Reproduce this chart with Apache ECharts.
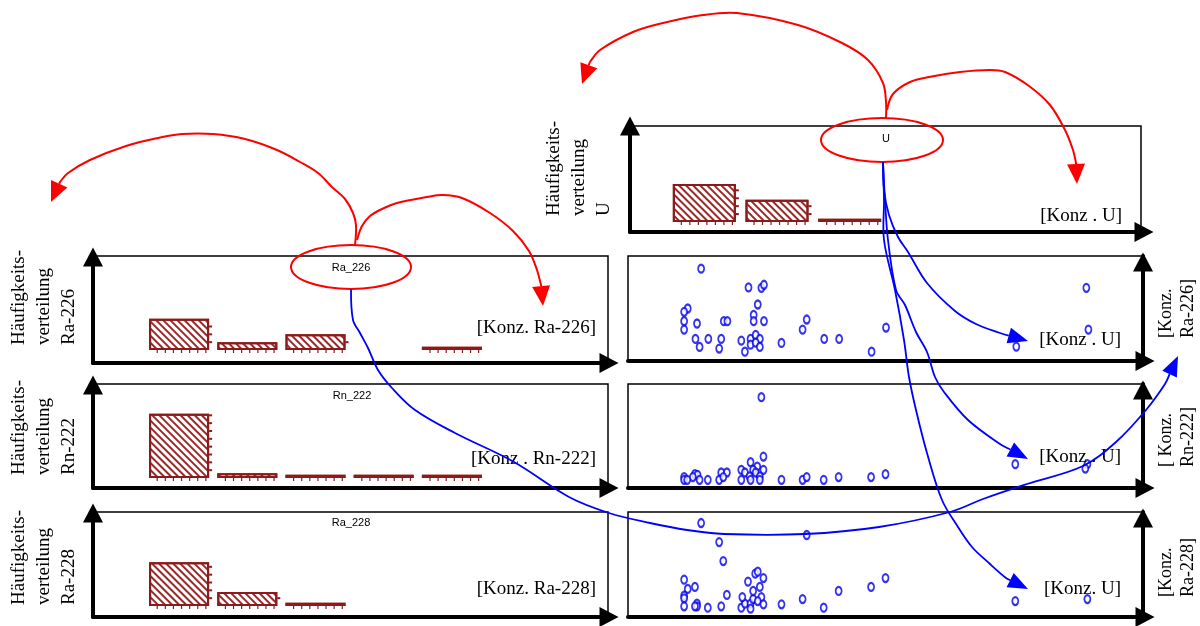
<!DOCTYPE html>
<html>
<head>
<meta charset="utf-8">
<script src="https://cdn.jsdelivr.net/npm/echarts@6/dist/echarts.min.js"></script>
<style>
  html, body { margin: 0; padding: 0; background: #fff; }
  #chart { width: 1200px; height: 626px; }
</style>
</head>
<body>
<div id="chart"></div>
<script>
// ---- data -------------------------------------------------------------
// histogram classes (concentration bins)
const binsU = ['U-1', 'U-2', 'U-3'];
const binsRa = ['K-1', 'K-2', 'K-3', 'K-4', 'K-5'];

// frequency per class
const countsU = [24, 14, 2];
const countsRa226 = [20, 5, 10, null, 2];
const countsRn222 = [41, 3, 2, 2, 2];
const countsRa228 = [28, 9, 2, null, null];

// scatter pairs [Konz. U, Konz. nuclide], relative units 0..100
const uRa226 = [
  [14.2, 87.9], [23.4, 70.1], [25.9, 69.7], [26.4, 72.6], [25.2, 53.8],
  [11.6, 50.0], [10.9, 46.8], [10.9, 37.9], [13.4, 35.7], [18.6, 37.9],
  [19.3, 37.9], [24.4, 43.9], [24.4, 37.9], [26.4, 37.9], [10.9, 29.9],
  [34.7, 39.5], [33.9, 29.9], [50.1, 31.8], [13.1, 21.0], [15.6, 21.0],
  [18.1, 21.0], [22.0, 19.4], [23.8, 21.0], [24.8, 24.8], [25.6, 21.0],
  [23.8, 15.6], [24.8, 17.5], [25.6, 13.4], [13.9, 13.4], [17.7, 11.8],
  [22.7, 8.9], [29.8, 17.2], [38.1, 21.0], [41.0, 21.0], [47.3, 8.9],
  [75.4, 13.7], [89.0, 69.7], [89.4, 29.9]
];
const uRn222 = [
  [25.9, 87.3], [26.3, 30.2], [23.8, 24.8], [25.1, 20.6], [24.3, 17.5],
  [26.3, 17.5], [22.0, 17.5], [22.7, 14.9], [24.8, 14.9], [23.6, 11.1],
  [25.6, 11.1], [22.0, 7.9], [23.8, 7.9], [25.6, 7.9], [18.1, 14.9],
  [19.2, 14.9], [17.7, 7.9], [18.5, 10.5], [13.0, 13.3], [13.5, 12.7],
  [12.6, 10.5], [10.9, 10.5], [10.9, 7.9], [11.5, 7.9], [13.9, 7.9],
  [15.5, 7.9], [29.8, 7.9], [33.9, 7.9], [34.7, 10.5], [38.0, 7.9],
  [40.9, 10.5], [47.2, 10.5], [50.0, 13.3], [75.2, 22.9], [89.2, 22.9],
  [88.8, 18.7]
];
const uRa228 = [
  [14.2, 89.5], [17.7, 71.4], [18.5, 53.3], [34.7, 78.1], [10.9, 35.6],
  [11.6, 26.7], [13.0, 28.6], [10.9, 20.3], [10.9, 17.8], [10.9, 10.2],
  [13.4, 12.7], [13.4, 10.2], [13.0, 10.2], [15.5, 8.9], [18.1, 10.2],
  [19.2, 21.0], [22.0, 8.9], [22.7, 12.7], [23.8, 12.7], [23.8, 7.9],
  [22.2, 19.0], [24.3, 17.1], [24.3, 24.8], [23.3, 33.7], [24.7, 41.3],
  [25.2, 43.2], [26.3, 37.1], [25.6, 28.6], [25.9, 19.0], [25.2, 15.2],
  [26.3, 12.1], [29.8, 12.1], [33.9, 17.1], [38.0, 8.9], [40.9, 24.8],
  [47.2, 28.6], [50.0, 37.1], [75.2, 15.2], [89.2, 17.1]
];

// ---- styling helpers ---------------------------------------------------
const BAR_RED = '#8b1a1a';
const SERIF = '"Liberation Serif", "Times New Roman", serif';
const SANS = '"Liberation Sans", Arial, sans-serif';

const hatch = {
  symbol: 'rect',
  symbolSize: 1,
  dashArrayX: [1, 0],
  dashArrayY: [2, 3],
  rotation: Math.PI / 4,
  color: '#9a2a2a'
};

function frameAxis(gridIndex, opts) {
  return Object.assign({
    gridIndex: gridIndex,
    type: 'value',
    min: 0,
    max: 100,
    axisLine: {
      show: true,
      onZero: false,
      lineStyle: { color: '#000', width: 4 },
      symbol: ['none', 'triangle'],
      symbolSize: [20, 19],
      symbolOffset: [0, opts.offset]
    },
    axisTick: { show: false },
    axisLabel: { show: false },
    splitLine: { show: false }
  }, opts.extra || {});
}

function hiddenAxis(gridIndex, type, extra) {
  return Object.assign({
    gridIndex: gridIndex,
    type: type,
    show: false,
    splitLine: { show: false }
  }, extra || {});
}

// ---- layout ------------------------------------------------------------
const frameBox = { show: true, borderColor: '#000', borderWidth: 1.5, backgroundColor: 'transparent' };
const grids = [
  // 0..3 histogram frames (U, Ra-226, Rn-222, Ra-228)
  Object.assign({ left: 630, top: 126, width: 511, height: 106 }, frameBox),
  Object.assign({ left: 93, top: 256, width: 515, height: 107 }, frameBox),
  Object.assign({ left: 93, top: 384, width: 515, height: 104 }, frameBox),
  Object.assign({ left: 93, top: 512, width: 515, height: 105 }, frameBox),
  // 4..7 histogram plotting areas
  { left: 668, top: 127, width: 218, height: 95 },
  { left: 145, top: 256, width: 341, height: 94 },
  { left: 145, top: 384, width: 341, height: 94 },
  { left: 145, top: 512, width: 341, height: 94 },
  // 8..10 scatter frames
  Object.assign({ left: 628, top: 256, width: 515, height: 105 }, frameBox),
  Object.assign({ left: 628, top: 384, width: 515, height: 104 }, frameBox),
  Object.assign({ left: 628, top: 512, width: 515, height: 105 }, frameBox)
];

const xAxes = [
  frameAxis(0, { offset: 3 }),
  frameAxis(1, { offset: 1 }),
  frameAxis(2, { offset: 1 }),
  frameAxis(3, { offset: 1 }),
  hiddenAxis(4, 'category', { data: binsU }),
  hiddenAxis(5, 'category', { data: binsRa }),
  hiddenAxis(6, 'category', { data: binsRa }),
  hiddenAxis(7, 'category', { data: binsRa }),
  frameAxis(8, { offset: 2 }),
  frameAxis(9, { offset: 2 }),
  frameAxis(10, { offset: 2 })
];
const yAxes = [
  frameAxis(0, { offset: 0 }),
  frameAxis(1, { offset: -1 }),
  frameAxis(2, { offset: -1 }),
  frameAxis(3, { offset: -1 }),
  hiddenAxis(4, 'value', { min: 0, max: 60 }),
  hiddenAxis(5, 'value', { min: 0, max: 60 }),
  hiddenAxis(6, 'value', { min: 0, max: 60 }),
  hiddenAxis(7, 'value', { min: 0, max: 60 }),
  frameAxis(8, { offset: -6, extra: { position: 'right' } }),
  frameAxis(9, { offset: -6, extra: { position: 'right' } }),
  frameAxis(10, { offset: -6, extra: { position: 'right' } })
];

function histSeries(name, idx, data, width) {
  return {
    name: name,
    type: 'bar',
    xAxisIndex: idx,
    yAxisIndex: idx,
    data: data,
    barWidth: width,
    silent: true,
    itemStyle: { color: '#fff', borderColor: BAR_RED, borderWidth: 2, decal: hatch }
  };
}
// small scale marks along the bottom and right edge of every histogram bar
function histTicks(idx, data, width) {
  return {
    type: 'custom',
    xAxisIndex: idx,
    yAxisIndex: idx,
    silent: true,
    z: 3,
    data: data.map(function (v, i) { return [i, v]; }).filter(function (d) { return d[1] != null; }),
    renderItem: function (params, api) {
      const i = api.value(0), v = api.value(1);
      const base = api.coord([i, 0]);
      const l = base[0] - width / 2, r = base[0] + width / 2;
      const kids = [];
      for (let k = 1; k <= 7; k++) {
        const x = l + k * width / 7.4;
        kids.push({ type: 'line', shape: { x1: x, y1: base[1], x2: x, y2: base[1] + 3 },
          style: { stroke: BAR_RED, lineWidth: 1.2 } });
      }
      for (let c = 5; c < v; c += 5) {
        const y = api.coord([i, c])[1];
        kids.push({ type: 'line', shape: { x1: r, y1: y, x2: r + 3, y2: y },
          style: { stroke: BAR_RED, lineWidth: 2 } });
      }
      return { type: 'group', children: kids };
    }
  };
}
function scatterSeries(name, idx, data) {
  return {
    name: name,
    type: 'scatter',
    xAxisIndex: idx,
    yAxisIndex: idx,
    data: data,
    symbol: 'circle',
    symbolSize: [6, 8],
    silent: true,
    itemStyle: { color: '#fff', borderColor: '#0000ee', borderWidth: 2 },
    z: 3
  };
}

// ---- annotations (arrows, ellipses, captions) --------------------------
function arrow(points, color, lineWidth, headLen, headWidth) {
  const n = points.length;
  const tip = points[n - 1];
  const prev = points[n - 2];
  const ang = Math.atan2(tip[1] - prev[1], tip[0] - prev[0]);
  const base = [tip[0] - headLen * Math.cos(ang), tip[1] - headLen * Math.sin(ang)];
  const px = -Math.sin(ang) * headWidth / 2, py = Math.cos(ang) * headWidth / 2;
  const linePts = points.slice(0, n - 1).concat([base]);
  return [
    { type: 'polyline', z: 100, silent: true,
      shape: { points: linePts, smooth: 0.35 },
      style: { stroke: color, lineWidth: lineWidth, fill: null } },
    { type: 'polygon', z: 101, silent: true,
      shape: { points: [tip, [base[0] + px, base[1] + py], [base[0] - px, base[1] - py]] },
      style: { fill: color, stroke: null } }
  ];
}
function ellipse(cx, cy, rx, ry) {
  return { type: 'ellipse', z: 99, silent: true,
    shape: { cx: cx, cy: cy, rx: rx, ry: ry },
    style: { fill: null, stroke: '#ff0000', lineWidth: 2 } };
}
function label(x, y, text, size, align, vAlign, font) {
  return { type: 'text', x: x, y: y, z: 50, silent: true,
    style: { text: text, fontSize: size, fontFamily: font || SERIF, fill: '#000',
      align: align, textAlign: align, verticalAlign: vAlign, textVerticalAlign: vAlign } };
}
function vlabel(x, y, text, size, lh) {
  return { type: 'text', x: x, y: y, rotation: Math.PI / 2, z: 50, silent: true,
    style: { text: text, fontSize: size, fontFamily: SERIF, fill: '#000', lineHeight: lh,
      align: 'left', textAlign: 'left', verticalAlign: 'top', textVerticalAlign: 'top' } };
}

const RED = '#ff0000', BLUE = '#0000ff';
const graphics = [].concat(
  // rotated axis captions
  vlabel(542, 216, 'Häufigkeits-\nverteilung\nU', 19, 25),
  vlabel(7, 345, 'Häufigkeits-\nverteilung\nRa-226', 19, 25),
  vlabel(7, 475, 'Häufigkeits-\nverteilung\nRn-222', 19, 25),
  vlabel(7, 605, 'Häufigkeits-\nverteilung\nRa-228', 19, 25),
  vlabel(1155, 338, '[Konz.\nRa-226]', 18, 22),
  vlabel(1155, 467, '[ Konz.\nRn-222]', 18, 22),
  vlabel(1155, 597, '[Konz.\nRa-228]', 18, 22),
  // concentration captions
  label(1122, 216, '[Konz . U]', 19, 'right', 'middle'),
  label(596, 328, '[Konz. Ra-226]', 19, 'right', 'middle'),
  label(596, 459, '[Konz . Rn-222]', 19, 'right', 'middle'),
  label(596, 589, '[Konz. Ra-228]', 19, 'right', 'middle'),
  label(1121, 340, '[Konz . U]', 19, 'right', 'middle'),
  label(1121, 457, '[Konz . U]', 19, 'right', 'middle'),
  label(1121, 589, '[Konz. U]', 19, 'right', 'middle'),
  // panel titles
  label(886, 139, 'U', 11, 'center', 'middle', SANS),
  label(351, 268, 'Ra_226', 11, 'center', 'middle', SANS),
  label(352, 396, 'Rn_222', 11, 'center', 'middle', SANS),
  label(351, 523, 'Ra_228', 11, 'center', 'middle', SANS),
  // highlight ellipses
  ellipse(882, 140, 61, 22),
  ellipse(351, 267, 60, 22),
  // red arrows: from U
  arrow([[886, 118], [886, 102], [883, 83], [868, 60], [842, 43], [798, 25], [737, 13],
         [703, 15], [663, 23], [633, 32], [600, 50], [590, 62], [582, 84]], RED, 2, 20, 18),
  arrow([[887, 110], [893, 94], [910, 82], [929, 77], [960, 72], [990, 70], [1005, 72],
         [1029, 86], [1050, 105], [1065, 130], [1073, 150], [1076, 163], [1077, 184]], RED, 2, 20, 18),
  // red arrows: from Ra_226
  arrow([[355, 245], [356, 225], [353, 213], [345, 199], [332, 187], [318, 173], [300, 162],
         [277, 150], [245, 139], [213, 134], [182, 134], [158, 138], [126, 146], [90, 160],
         [68, 173], [60, 182], [51, 202]], RED, 2, 20, 18),
  arrow([[357, 240], [362, 226], [370, 216], [382, 209], [397, 203], [427, 197], [443, 195],
         [462, 198], [490, 213], [513, 231], [529, 251], [537, 270], [541, 285], [543, 306]], RED, 2, 20, 18),
  // blue arrow: Ra_226 -> Ra-226 axis of the scatter panel
  arrow([[351, 289], [353, 320], [360, 333], [368, 348], [378, 370], [392, 388], [415, 410],
         [455, 433], [514, 462], [569, 497], [609, 513], [650, 523], [687, 530], [724, 534],
         [805, 534], [879, 527], [950, 512], [983, 499], [1027, 484], [1083, 466], [1116, 442],
         [1146, 410], [1165, 384], [1178, 356]], BLUE, 1.8, 20, 16),
  // blue arrows: U -> scatter panels
  arrow([[883, 162], [884, 190], [889, 215], [898, 237], [908, 252], [927, 283], [955, 311],
         [976, 324], [1000, 333], [1028, 341]], BLUE, 1.8, 20, 16),
  arrow([[883, 162], [885, 200], [888, 240], [896, 290], [905, 305], [916, 332], [927, 352],
         [935, 377], [944, 392], [968, 420], [1000, 444], [1028, 459]], BLUE, 1.8, 20, 16),
  arrow([[883, 162], [884, 200], [884, 240], [895, 290], [904, 340], [909, 377], [916, 410],
         [927, 453], [942, 500], [958, 527], [972, 547], [990, 564], [1006, 578], [1028, 589]], BLUE, 1.8, 20, 16)
);

const chart = echarts.init(document.getElementById('chart'), null, { renderer: 'canvas' });
chart.setOption({
  animation: false,
  backgroundColor: '#fff',
  grid: grids,
  xAxis: xAxes,
  yAxis: yAxes,
  series: [
    histSeries('U', 4, countsU, 63),
    histSeries('Ra_226', 5, countsRa226, 60),
    histSeries('Rn_222', 6, countsRn222, 60),
    histSeries('Ra_228', 7, countsRa228, 60),
    histTicks(4, countsU, 63),
    histTicks(5, countsRa226, 60),
    histTicks(6, countsRn222, 60),
    histTicks(7, countsRa228, 60),
    scatterSeries('U / Ra-226', 8, uRa226),
    scatterSeries('U / Rn-222', 9, uRn222),
    scatterSeries('U / Ra-228', 10, uRa228)
  ],
  graphic: { elements: graphics }
});
</script>
</body>
</html>
